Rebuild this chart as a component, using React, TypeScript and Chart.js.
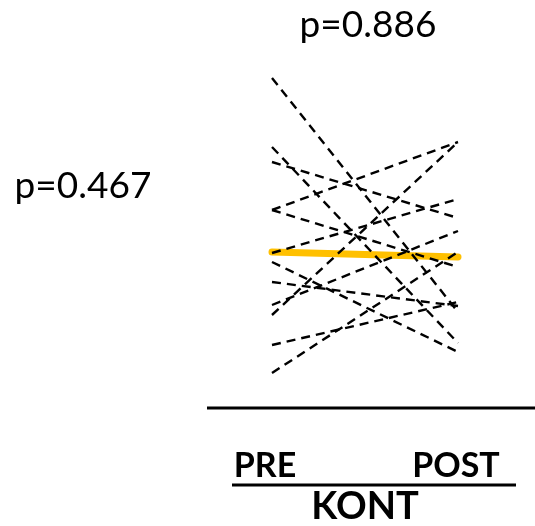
import React, { useEffect, useRef } from "react";
import { Chart, registerables } from "chart.js";

Chart.register(...registerables);

const categories = ["PRE", "POST"];
const groupLabel = "KONT";
const pPre = "p=0.467";
const pChange = "p=0.886";

// individual subjects (arbitrary units)
const preValues = [44.8, 37.9, 36.4, 31.6, 31.6, 27.3, 26.4, 24.4, 22.1, 21.1, 18.1, 15.3];
const postValues = [21.4, 18.3, 30.8, 38.4, 25.9, 32.7, 17.4, 22.0, 29.5, 38.4, 22.4, 27.4];
const meanValues = [27.4, 26.9];

const W = 535;
const H = 526;

export default function App() {
  const ref = useRef<HTMLCanvasElement | null>(null);

  useEffect(() => {
    if (!ref.current) return;
    const xMin = -272 / 186;
    const xMax = xMin + W / 186;

    const subjectSets = preValues.map((pre, i) => ({
      label: "S" + (i + 1),
      data: [
        { x: 0, y: pre },
        { x: 1, y: postValues[i] },
      ],
      borderColor: "#000000",
      borderWidth: 2.4,
      borderDash: [9, 6],
      pointRadius: 0,
      fill: false,
    }));

    const lines = {
      id: "axisLines",
      afterDraw(chart: any) {
        const ctx = chart.ctx;
        ctx.save();
        ctx.strokeStyle = "#000";
        ctx.lineWidth = 3;
        ctx.beginPath();
        ctx.moveTo(207, 408);
        ctx.lineTo(535, 408);
        ctx.moveTo(232, 485);
        ctx.lineTo(516, 485);
        ctx.stroke();
        ctx.restore();
      },
    };

    const chart = new Chart(ref.current, {
      type: "line",
      data: {
        datasets: [
          ...subjectSets,
          {
            label: "mean",
            data: [
              { x: 0, y: meanValues[0] },
              { x: 1, y: meanValues[1] },
            ],
            borderColor: "#FFC000",
            borderWidth: 7,
            borderCapStyle: "round",
            pointRadius: 0,
            fill: false,
          } as any,
        ],
      },
      options: {
        animation: false,
        responsive: false,
        maintainAspectRatio: false,
        layout: { padding: 0 },
        plugins: { legend: { display: false }, tooltip: { enabled: false }, title: { display: false } },
        scales: {
          x: { type: "linear", display: false, min: xMin, max: xMax },
          y: { display: false, min: 0, max: H / 10 },
        },
      },
      plugins: [lines],
    });
    return () => chart.destroy();
  }, []);

  const font = "Lato, Carlito, 'Open Sans', sans-serif";
  return (
    <div style={{ position: "fixed", left: 0, top: 0, width: W, height: H, background: "#fff", fontFamily: font }}>
      <canvas ref={ref} width={W} height={H} style={{ position: "absolute", left: 0, top: 0 }} />
      <div style={{ position: "absolute", left: 268, width: 200, top: -1, textAlign: "center", fontSize: 37, lineHeight: "48px", color: "#000" }}>
        {pChange}
      </div>
      <div style={{ position: "absolute", left: 0, width: 166, top: 160, textAlign: "center", fontSize: 37, lineHeight: "48px", color: "#000" }}>
        {pPre}
      </div>
      <div style={{ position: "absolute", left: 215, width: 100, top: 442, textAlign: "center", fontSize: 34, fontWeight: 700, lineHeight: "44px" }}>
        {categories[0]}
      </div>
      <div style={{ position: "absolute", left: 406, width: 100, top: 442, textAlign: "center", fontSize: 34, fontWeight: 700, lineHeight: "44px" }}>
        {categories[1]}
      </div>
      <div style={{ position: "absolute", left: 265, width: 200, top: 481, textAlign: "center", fontSize: 38, fontWeight: 700, lineHeight: "46px" }}>
        {groupLabel}
      </div>
    </div>
  );
}
